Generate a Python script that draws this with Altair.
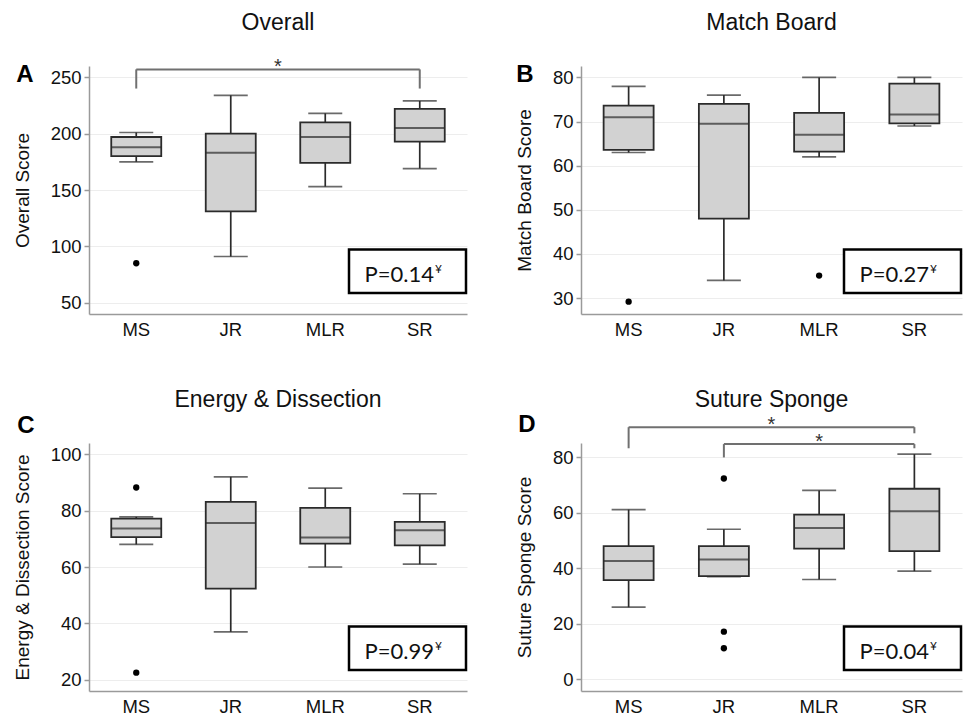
import altair as alt
import pandas as pd

FONT = "Liberation Sans"
PFONT = "Lato"
DARK = "#2b2b2b"
BOXFILL = "#d2d2d2"
AXISC = "#9a9a9a"
BRC = "#707070"

cats = ["MS", "JR", "MLR", "SR"]

# Panel A - Overall
a_low = [175, 91, 153, 169]
a_q1 = [180, 131, 174, 193]
a_med = [188, 183, 197, 205]
a_q3 = [197, 200, 210, 222]
a_high = [201, 234, 218, 229]
a_out_cat = ["MS"]
a_out_val = [85]
a_domain = [40, 260]
a_ticks = [50, 100, 150, 200, 250]
a_br_from = ["MS"]
a_br_to = ["SR"]
a_br_y = [257]
a_br_from_end = [240]
a_br_to_end = [240]
a_star_frac = [0.5]

# Panel B - Match Board
b_low = [63, 34, 62, 69]
b_q1 = [63.6, 48, 63.2, 69.6]
b_med = [71, 69.5, 67, 71.6]
b_q3 = [73.6, 74, 72, 78.6]
b_high = [78, 76, 80, 80]
b_out_cat = ["MS", "MLR"]
b_out_val = [29.2, 35.1]
b_domain = [26.4, 82.6]
b_ticks = [30, 40, 50, 60, 70, 80]

# Panel C - Energy & Dissection
c_low = [68, 37, 60, 61]
c_q1 = [70.6, 52.3, 68.3, 67.7]
c_med = [73.7, 75.6, 70.5, 73]
c_q3 = [77.2, 83.1, 81, 76]
c_high = [77.8, 92, 88, 86]
c_out_cat = ["MS", "MS"]
c_out_val = [88.2, 22.5]
c_domain = [16, 104]
c_ticks = [20, 40, 60, 80, 100]

# Panel D - Suture Sponge
d_low = [26, 37, 36, 39]
d_q1 = [35.8, 37.2, 47.1, 46.2]
d_med = [42.7, 43.2, 54.6, 60.6]
d_q3 = [48, 48, 59.4, 68.7]
d_high = [61.2, 54.1, 68.1, 81.2]
d_out_cat = ["JR", "JR", "JR"]
d_out_val = [72.4, 17.2, 11.2]
d_domain = [-4.2, 85.2]
d_ticks = [0, 20, 40, 60, 80]
d_br_from = ["MS", "JR"]
d_br_to = ["SR", "SR"]
d_br_y = [90.9, 84.8]
d_br_from_end = [83.3, 80]
d_br_to_end = [88.7, 83.3]
d_star_frac = [0.5, 0.625]

titles = ["Overall", "Match Board", "Energy & Dissection", "Suture Sponge"]
letters = ["A", "B", "C", "D"]
ytitles = ["Overall Score", "Match Board Score", "Energy & Dissection Score", "Suture Sponge Score"]
pvals = ["P=0.14", "P=0.27", "P=0.99", "P=0.04"]

H = 248


def panel(i, low, q1, med, q3, high, out_cat, out_val, domain, ticks, w, h,
          letter_dx, letter_y, br=None):
    xaxis = alt.Axis(title=None, labelAngle=0, ticks=False, grid=False,
                     domainColor=AXISC, domainWidth=1.5,
                     labelFont=FONT, labelFontSize=18.5, labelColor="#111",
                     labelPadding=6)
    xscale = alt.Scale(domain=cats, paddingInner=0, paddingOuter=0)
    yscale = alt.Scale(domain=domain, nice=False, zero=False)
    yaxis = alt.Axis(title=ytitles[i], values=ticks, grid=True,
                     gridColor="#ededed", gridWidth=1.2,
                     domainColor=AXISC, domainWidth=1.5,
                     tickColor=AXISC, tickSize=5, tickWidth=1.5,
                     labelFont=FONT, labelFontSize=18.5, labelColor="#111",
                     labelPadding=3,
                     titleFont=FONT, titleFontSize=19, titleFontWeight="normal",
                     titleColor="#111", titlePadding=18)

    def X(f):
        return alt.X(f, type="nominal", sort=cats, scale=xscale, axis=xaxis)

    def Y(f):
        return alt.Y(f, type="quantitative", scale=yscale, axis=yaxis)

    box = pd.DataFrame({"cat": cats, "low": low, "q1": q1, "med": med,
                        "q3": q3, "high": high})
    base = alt.Chart(box)
    layers = []
    layers.append(base.mark_rule(color=DARK, strokeWidth=1.7).encode(
        x=X("cat"), y=Y("low"), y2="high"))
    layers.append(base.mark_tick(color=DARK, size=34, thickness=1.7).encode(
        x=X("cat"), y=Y("low")))
    layers.append(base.mark_tick(color=DARK, size=34, thickness=1.7).encode(
        x=X("cat"), y=Y("high")))
    layers.append(base.mark_bar(size=50, fill=BOXFILL, stroke=DARK,
                                strokeWidth=1.8).encode(
        x=X("cat"), y=Y("q1"), y2="q3"))
    layers.append(base.mark_tick(color=DARK, size=50, thickness=2).encode(
        x=X("cat"), y=Y("med")))
    outl = pd.DataFrame({"cat": out_cat, "v": out_val})
    layers.append(alt.Chart(outl).mark_circle(size=40, color="black",
                                              opacity=1).encode(
        x=X("cat"), y=Y("v")))

    if br is not None:
        bf, bt, by, bfe, bte, sf = br
        bdf = pd.DataFrame({"f": bf, "t": bt, "y": by, "fe": bfe, "te": bte})
        bc = alt.Chart(bdf)
        layers.append(bc.mark_rule(color=BRC, strokeWidth=2).encode(
            x=X("f"), x2="t", y=Y("y")))
        layers.append(bc.mark_rule(color=BRC, strokeWidth=2).encode(
            x=X("f"), y=Y("fe"), y2="y"))
        layers.append(bc.mark_rule(color=BRC, strokeWidth=2).encode(
            x=X("t"), y=Y("te"), y2="y"))
        for k in range(len(bf)):
            sdf = pd.DataFrame({"s": ["*"], "y": [by[k]]})
            layers.append(alt.Chart(sdf).mark_text(
                font=FONT, fontSize=20, color="#333", baseline="alphabetic",
                align="center", dy=4).encode(
                text="s:N", x=alt.value(w * sf[k]), y=Y("y")))

    one = pd.DataFrame({"t": [titles[i]], "l": [letters[i]], "p": [pvals[i]],
                        "yen": ["\u00a5"]})
    oc = alt.Chart(one)
    layers.append(oc.mark_text(font=FONT, fontSize=23, color="#111",
                               baseline="alphabetic", align="center").encode(
        text="t:N", x=alt.value(w / 2), y=alt.value(-36)))
    layers.append(oc.mark_text(font=FONT, fontSize=24, fontWeight="bold",
                               color="#000", baseline="alphabetic",
                               align="center").encode(
        text="l:N", x=alt.value(letter_dx), y=alt.value(letter_y)))
    layers.append(oc.mark_rect(fill="white", stroke="black",
                               strokeWidth=2.5).encode(
        x=alt.value(w - 118), x2=alt.value(w - 1),
        y=alt.value(0.74 * h), y2=alt.value(0.915 * h)))
    layers.append(oc.mark_text(font=PFONT, fontSize=22, color="#111",
                               baseline="alphabetic", align="right").encode(
        text="p:N", x=alt.value(w - 33), y=alt.value(0.87 * h)))
    layers.append(oc.mark_text(font=PFONT, fontSize=12, color="#111",
                               baseline="alphabetic", align="left").encode(
        text="yen:N", x=alt.value(w - 32), y=alt.value(0.835 * h)))

    return alt.layer(*layers).properties(width=w, height=h)


A = panel(0, a_low, a_q1, a_med, a_q3, a_high, a_out_cat, a_out_val,
          a_domain, a_ticks, 378, H, -64, 16,
          br=(a_br_from, a_br_to, a_br_y, a_br_from_end, a_br_to_end, a_star_frac))
B = panel(1, b_low, b_q1, b_med, b_q3, b_high, b_out_cat, b_out_val,
          b_domain, b_ticks, 381, H, -56, 16)
C = panel(2, c_low, c_q1, c_med, c_q3, c_high, c_out_cat, c_out_val,
          c_domain, c_ticks, 378, H, -63, -10)
D = panel(3, d_low, d_q1, d_med, d_q3, d_high, d_out_cat, d_out_val,
          d_domain, d_ticks, 381, H, -54, -11,
          br=(d_br_from, d_br_to, d_br_y, d_br_from_end, d_br_to_end, d_star_frac))

top = alt.hconcat(A, B, spacing=47)
bottom = alt.hconcat(C, D, spacing=47)
chart = alt.vconcat(top, bottom, spacing=50).properties(
    padding={"left": 5, "top": 4, "right": 0, "bottom": 0}
).configure_view(strokeWidth=0)

chart.save("out.html", embed_options={"renderer": "svg", "actions": False})
